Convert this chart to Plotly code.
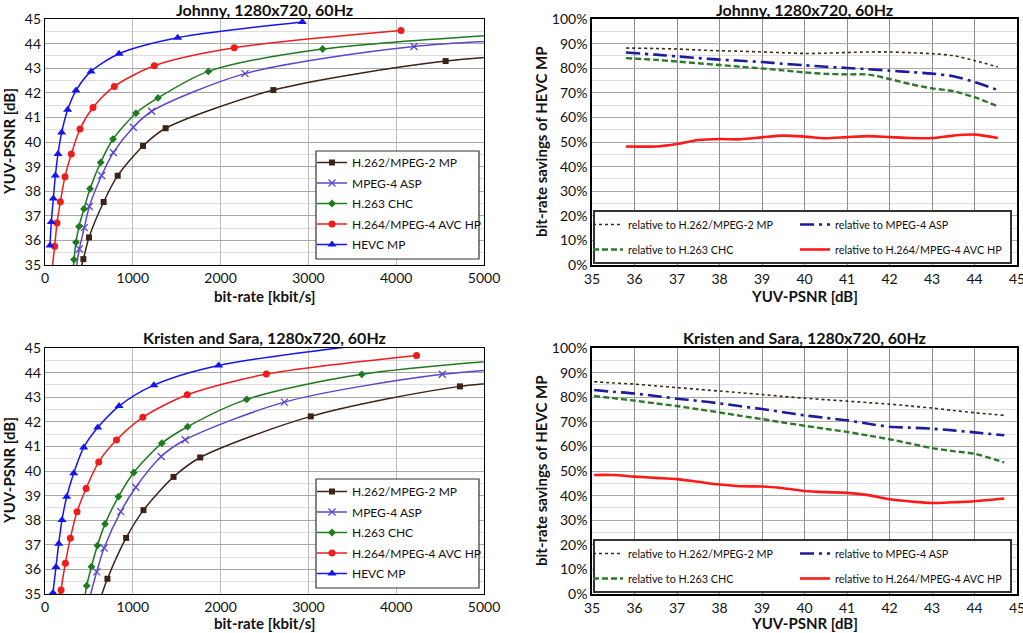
import plotly.graph_objects as go

W, H = 1023, 633
FONT = "Lato, 'Open Sans', sans-serif"

# ---------------- data: rate-distortion curves (bit-rate kbit/s, PSNR dB) ----------------
codecs = ["H.262/MPEG-2 MP", "MPEG-4 ASP", "H.263 CHC", "H.264/MPEG-4 AVC HP", "HEVC MP"]

# Johnny
j_h262_rate = [400, 437, 501, 668, 828, 1116, 1374, 2601, 4563, 6500]
j_h262_psnr = [34.75, 35.24, 36.12, 37.56, 38.63, 39.84, 40.56, 42.11, 43.29, 43.75]
j_asp_rate = [350, 391, 448, 505, 645, 778, 1006, 1215, 2278, 4203, 6500]
j_asp_psnr = [34.75, 35.65, 36.52, 37.38, 38.64, 39.57, 40.60, 41.25, 42.78, 43.88, 44.30]
j_h263_rate = [322, 330, 353, 387, 444, 513, 634, 775, 1036, 1287, 1860, 3162, 6500]
j_h263_psnr = [34.85, 35.22, 35.92, 36.56, 37.28, 38.10, 39.17, 40.12, 41.17, 41.79, 42.87, 43.78, 44.65]
j_h264_rate = [80, 110, 137, 175, 228, 300, 399, 547, 790, 1245, 2156, 4055]
j_h264_psnr = [34.80, 35.76, 36.71, 37.57, 38.59, 39.51, 40.53, 41.40, 42.26, 43.10, 43.83, 44.53]
j_hevc_rate = [57, 72, 95, 118, 148, 190, 258, 353, 524, 843, 1511, 2931]
j_hevc_psnr = [35.79, 36.75, 37.70, 38.64, 39.51, 40.39, 41.31, 42.09, 42.87, 43.59, 44.24, 44.88]

# Kristen and Sara
k_h262_rate = [630, 711, 924, 1122, 1464, 1768, 3027, 4726, 6500]
k_h262_psnr = [34.80, 35.62, 37.28, 38.41, 39.76, 40.55, 42.22, 43.44, 43.90]
k_asp_rate = [505, 589, 673, 863, 1034, 1323, 1597, 2726, 4525, 6500]
k_asp_psnr = [34.80, 35.90, 36.87, 38.35, 39.34, 40.59, 41.27, 42.80, 43.93, 44.40]
k_h263_rate = [450, 475, 529, 597, 684, 837, 1011, 1331, 1624, 2297, 3608, 6500]
k_h263_psnr = [34.80, 35.34, 36.11, 36.97, 37.85, 38.96, 39.94, 41.13, 41.80, 42.91, 43.93, 44.85]
k_h264_rate = [175, 183, 232, 289, 365, 468, 612, 814, 1114, 1620, 2521, 4232]
k_h264_psnr = [34.90, 35.16, 36.25, 37.27, 38.34, 39.29, 40.37, 41.26, 42.18, 43.10, 43.94, 44.70]
k_hevc_rate = [91, 125, 156, 194, 247, 327, 441, 601, 844, 1240, 1977, 4400]
k_hevc_psnr = [35.05, 36.10, 37.04, 38.01, 38.95, 39.91, 40.96, 41.77, 42.64, 43.49, 44.29, 45.45]

# ---------------- data: bit-rate savings of HEVC MP (%) vs PSNR ----------------
savings_names = ["relative to H.262/MPEG-2 MP", "relative to MPEG-4 ASP",
                 "relative to H.263 CHC", "relative to H.264/MPEG-4 AVC HP"]

js_psnr = [35.8, 36.5, 37.0, 37.5, 38.0, 38.5, 39.0, 39.5, 40.0, 40.5, 41.0, 41.5, 42.0, 42.5, 43.0, 43.5, 44.0, 44.55]
js_h262 = [88.2, 88.0, 87.8, 87.4, 87.1, 86.9, 86.6, 86.3, 86.0, 86.1, 86.4, 86.6, 86.6, 86.3, 85.9, 85.1, 83.1, 80.5]
js_asp = [86.4, 85.5, 84.8, 84.1, 83.5, 83.0, 82.5, 81.8, 81.2, 80.6, 80.1, 79.6, 79.0, 78.4, 77.8, 76.7, 74.4, 71.1]
js_h263 = [84.1, 83.4, 82.7, 82.0, 81.3, 80.6, 79.9, 79.1, 78.3, 77.7, 77.5, 77.4, 75.6, 73.5, 71.8, 70.7, 68.2, 64.5]
js_h264 = [48.2, 48.2, 49.2, 50.8, 51.2, 51.1, 51.9, 52.6, 52.2, 51.5, 52.0, 52.4, 52.0, 51.6, 51.6, 52.6, 53.0, 51.6]

ks_psnr = [35.05, 35.5, 36.0, 36.5, 37.0, 37.5, 38.0, 38.5, 39.0, 39.5, 40.0, 40.5, 41.0, 41.5, 42.0, 42.5, 43.0, 43.5, 44.0, 44.7]
ks_h262 = [86.3, 85.8, 85.3, 84.6, 83.9, 83.2, 82.5, 81.8, 81.1, 80.3, 79.6, 79.0, 78.4, 77.8, 77.2, 76.4, 75.6, 74.6, 73.7, 72.6]
ks_asp = [82.9, 82.2, 81.5, 80.5, 79.4, 78.5, 77.5, 76.3, 75.2, 73.9, 72.6, 71.6, 70.6, 69.2, 68.0, 67.6, 67.2, 66.5, 65.7, 64.5]
ks_h263 = [80.5, 79.6, 78.6, 77.5, 76.4, 75.1, 73.8, 72.4, 71.1, 69.7, 68.4, 67.1, 65.9, 64.4, 62.9, 61.1, 59.3, 58.1, 57.0, 53.5]
ks_h264 = [48.4, 48.4, 47.7, 47.2, 46.7, 45.6, 44.5, 43.8, 43.7, 43.0, 41.9, 41.4, 41.1, 40.2, 38.5, 37.6, 37.0, 37.3, 37.7, 38.8]

# tick labels
rate_ticks = [0, 1000, 2000, 3000, 4000, 5000]
psnr_ticks = [35, 36, 37, 38, 39, 40, 41, 42, 43, 44, 45]
pct_ticks = [0, 10, 20, 30, 40, 50, 60, 70, 80, 90, 100]

# ---------------- styling ----------------
rd_colors = ["#3d2217", "#5a46d0", "#1d7a1d", "#f01c1c", "#1414f0"]
rd_symbols = ["square", "x-thin", "diamond", "circle", "triangle-up"]
rd_sizes = [6, 7, 6, 7, 8]
sv_colors = ["#3b2a18", "#1c1c9e", "#2b7a2b", "#ff1a1a"]
sv_dash = ["dot", "14px,5px,3px,5px", "6px,3px", "solid"]
sv_width = [1.6, 2.6, 2.4, 2.6]


def hx(p):
    return p / W


def vy(p):
    return 1 - p / H


fig = go.Figure()

rd_sets = [
    ("x", "y", "legend", [(j_h262_rate, j_h262_psnr), (j_asp_rate, j_asp_psnr), (j_h263_rate, j_h263_psnr),
                          (j_h264_rate, j_h264_psnr), (j_hevc_rate, j_hevc_psnr)]),
    ("x3", "y3", "legend2", [(k_h262_rate, k_h262_psnr), (k_asp_rate, k_asp_psnr), (k_h263_rate, k_h263_psnr),
                             (k_h264_rate, k_h264_psnr), (k_hevc_rate, k_hevc_psnr)]),
]
for xa, ya, lg, sets in rd_sets:
    for i, (r, p) in enumerate(sets):
        fig.add_trace(go.Scatter(
            x=r, y=p, xaxis=xa, yaxis=ya, name=codecs[i], legend=lg, legendgroup=lg + str(i),
            mode="lines+markers", line=dict(color=rd_colors[i], width=1.5, shape="spline", smoothing=0.8),
            marker=dict(symbol=rd_symbols[i], size=rd_sizes[i], color=rd_colors[i],
                        line=dict(color=rd_colors[i], width=1.3 if i == 1 else 0)),
            cliponaxis=True, showlegend=True))

sv_sets = [
    ("x2", "y2", ("legend3", "legend4"), js_psnr, [js_h262, js_asp, js_h263, js_h264]),
    ("x4", "y4", ("legend5", "legend6"), ks_psnr, [ks_h262, ks_asp, ks_h263, ks_h264]),
]
for xa, ya, lgs, xs, ys in sv_sets:
    for i, v in enumerate(ys):
        lg = lgs[i % 2]
        fig.add_trace(go.Scatter(
            x=xs, y=v, xaxis=xa, yaxis=ya, name=savings_names[i], legend=lg, legendgroup=lg + str(i),
            mode="lines", line=dict(color=sv_colors[i], width=sv_width[i], dash=sv_dash[i],
                                    shape="spline", smoothing=0.8),
            showlegend=True))

tickfont = dict(family=FONT, size=14, color="#111111")
common = dict(showline=True, mirror=True, linecolor="#000000", ticks="", tickfont=tickfont,
              zeroline=False, showgrid=True, automargin=False)

left_x = [hx(45), hx(484)]
right_x = [hx(592), hx(1017)]
top_y = [vy(265), vy(19)]
bot_y = [vy(594), vy(348)]

for ax, dom, anchor in [("xaxis", left_x, "y"), ("xaxis3", left_x, "y3")]:
    fig.layout[ax] = dict(common, domain=dom, anchor=anchor, range=[0, 5000], tickvals=rate_ticks,
                          ticktext=[str(t) for t in rate_ticks], gridcolor="#bdbdbd", linewidth=1.2)
for ax, dom, anchor in [("yaxis", top_y, "x"), ("yaxis3", bot_y, "x3")]:
    fig.layout[ax] = dict(common, domain=dom, anchor=anchor, range=[35, 45], tickvals=psnr_ticks,
                          gridcolor="#a8a8a8", linewidth=1.2,
                          minor=dict(dtick=0.5, tick0=35, showgrid=True, gridcolor="#dedede", gridwidth=1))
for ax, dom, anchor in [("xaxis2", right_x, "y2"), ("xaxis4", right_x, "y4")]:
    fig.layout[ax] = dict(common, domain=dom, anchor=anchor, range=[35, 45], tickvals=psnr_ticks,
                          gridcolor="#8c8c8c", linewidth=1.6, ticklabeloverflow="allow")
for ax, dom, anchor in [("yaxis2", top_y, "x2"), ("yaxis4", bot_y, "x4")]:
    fig.layout[ax] = dict(common, domain=dom, anchor=anchor, range=[0, 100], tickvals=pct_ticks,
                          ticktext=[f"{t}%" for t in pct_ticks], gridcolor="#a8a8a8", linewidth=1.6,
                          minor=dict(dtick=5, tick0=0, showgrid=True, gridcolor="#dedede", gridwidth=1))

legfont_l = dict(family=FONT, size=12, color="#111111")
legfont_r = dict(family=FONT, size=10.8, color="#111111")
leg_common = dict(bgcolor="rgba(0,0,0,0)", borderwidth=0, xanchor="left", yanchor="top",
                  orientation="v", traceorder="grouped")
fig.update_layout(
    legend=dict(leg_common, font=legfont_l, x=hx(312), y=vy(148), tracegroupgap=1.5),
    legend2=dict(leg_common, font=legfont_l, x=hx(312), y=vy(477), tracegroupgap=1.5),
    legend3=dict(leg_common, font=legfont_r, x=hx(588), y=vy(210), tracegroupgap=6),
    legend4=dict(leg_common, font=legfont_r, x=hx(795), y=vy(210), tracegroupgap=6),
    legend5=dict(leg_common, font=legfont_r, x=hx(588), y=vy(539), tracegroupgap=6),
    legend6=dict(leg_common, font=legfont_r, x=hx(795), y=vy(539), tracegroupgap=6),
)

# legend frames
shapes = [
    dict(x0=hx(316), x1=hx(479), y0=vy(151), y1=vy(259)),
    dict(x0=hx(316), x1=hx(479), y0=vy(479), y1=vy(588)),
    dict(x0=hx(594), x1=hx(1011), y0=vy(211), y1=vy(263)),
    dict(x0=hx(594), x1=hx(1011), y0=vy(540), y1=vy(592)),
]
for k, s in enumerate(shapes):
    fig.add_shape(type="rect", xref="paper", yref="paper", layer="above",
                  line=dict(color="#333333", width=1.2 if k < 2 else 2), fillcolor="white", **s)

titlefont = dict(family=FONT, size=16, color="#111111")
axfont = dict(family=FONT, size=15, color="#111111")
anns = [
    ("Johnny, 1280x720, 60Hz", 264.5, 9, 0, titlefont),
    ("Johnny, 1280x720, 60Hz", 804.5, 9, 0, titlefont),
    ("Kristen and Sara, 1280x720, 60Hz", 264.5, 337, 0, titlefont),
    ("Kristen and Sara, 1280x720, 60Hz", 804.5, 337, 0, titlefont),
    ("bit-rate [kbit/s]", 264.5, 296, 0, axfont),
    ("YUV-PSNR [dB]", 804.5, 296, 0, axfont),
    ("bit-rate [kbit/s]", 264.5, 623, 0, axfont),
    ("YUV-PSNR [dB]", 804.5, 623, 0, axfont),
    ("YUV-PSNR [dB]", 9, 142, -90, axfont),
    ("bit-rate savings of HEVC MP", 541, 142, -90, axfont),
    ("YUV-PSNR [dB]", 9, 471, -90, axfont),
    ("bit-rate savings of HEVC MP", 541, 471, -90, axfont),
]
for text, px_, py_, ang, f in anns:
    fig.add_annotation(text=f"<b>{text}</b>", x=hx(px_), y=vy(py_), xref="paper", yref="paper",
                       showarrow=False, textangle=ang, font=f, xanchor="center", yanchor="middle")

fig.update_layout(width=W, height=H, margin=dict(l=0, r=0, t=0, b=0, autoexpand=False),
                  paper_bgcolor="white", plot_bgcolor="white", font=dict(family=FONT))

fig.write_html("out.html", config={"displayModeBar": False},
               post_script="document.body.style.margin='0';document.body.style.overflow='hidden';")
